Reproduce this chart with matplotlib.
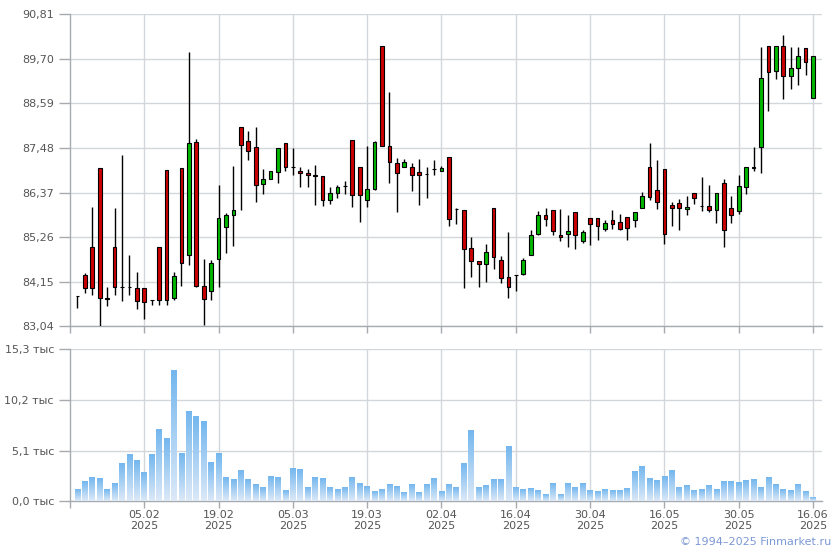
import numpy as np
import matplotlib
matplotlib.use('Agg')
import matplotlib.pyplot as plt
from matplotlib.colors import LinearSegmentedColormap

plt.rcParams['font.family'] = ['DejaVu Sans']

# 每个交易日的开高低收
opens = [83.80, 84.31, 85.02, 86.98, 83.74, 85.02, 84.02, 84.02, 83.99, 83.99,
         83.70, 85.02, 86.93, 83.75, 86.98, 84.81, 87.63, 84.05, 83.91, 84.72,
         85.51, 85.81, 88.00, 87.65, 87.50, 86.58, 86.71, 86.88, 87.60, 87.01,
         86.91, 86.86, 86.81, 86.79, 86.18, 86.36, 86.54, 87.68, 87.00, 86.18,
         86.46, 90.02, 87.53, 87.10, 87.00, 87.00, 86.88, 86.83, 86.95, 86.92,
         87.26, 85.95, 85.94, 84.99, 84.67, 84.58, 85.99, 84.70, 84.27, 84.32,
         84.34, 84.82, 85.34, 85.81, 85.94, 85.31, 85.34, 85.89, 85.16, 85.74,
         85.74, 85.46, 85.69, 85.64, 85.76, 85.69, 85.98, 87.00, 86.43, 86.96,
         86.06, 86.11, 85.96, 86.36, 86.03, 86.03, 85.94, 86.61, 85.98, 85.91,
         86.51, 87.00, 87.50, 90.01, 89.41, 90.01, 89.28, 89.47, 89.98, 88.72]
highs = [83.80, 84.37, 86.01, 86.98, 84.02, 85.99, 87.30, 84.81, 84.39, 83.99,
         83.70, 85.02, 86.93, 84.39, 86.98, 89.86, 87.70, 84.72, 84.70, 86.57,
         85.86, 87.02, 88.00, 87.91, 88.00, 86.96, 86.90, 87.48, 87.60, 87.48,
         87.00, 86.97, 87.05, 86.79, 86.51, 86.57, 86.66, 87.68, 87.00, 87.53,
         87.65, 90.02, 88.88, 87.24, 87.21, 87.10, 87.21, 87.00, 87.18, 87.04,
         87.26, 85.98, 85.94, 85.26, 84.67, 85.09, 85.99, 84.78, 85.40, 84.32,
         84.74, 85.45, 85.90, 85.99, 85.94, 85.96, 85.81, 85.89, 85.44, 85.74,
         85.74, 85.69, 85.94, 85.84, 85.76, 85.89, 86.38, 87.60, 87.18, 86.96,
         86.13, 86.21, 86.28, 86.36, 86.76, 86.56, 86.36, 86.71, 86.28, 86.81,
         87.00, 87.50, 89.99, 90.01, 90.01, 90.30, 89.99, 89.99, 89.98, 89.78]
lows = [83.49, 83.87, 83.83, 83.06, 83.54, 83.83, 83.66, 83.81, 83.48, 83.23,
        83.58, 83.58, 83.58, 83.69, 84.04, 84.56, 84.02, 83.07, 83.69, 84.02,
        84.87, 85.03, 85.93, 87.17, 86.13, 86.33, 86.71, 86.60, 86.92, 86.80,
        86.50, 86.50, 86.05, 86.03, 86.08, 86.23, 86.33, 86.00, 85.65, 86.00,
        86.44, 87.52, 86.60, 85.89, 87.00, 86.40, 86.05, 86.23, 86.80, 86.90,
        85.53, 85.60, 84.00, 84.26, 84.02, 84.14, 84.47, 84.12, 83.75, 83.91,
        84.31, 84.81, 85.31, 85.53, 85.31, 85.16, 85.01, 84.97, 85.12, 85.06,
        85.18, 85.41, 85.46, 85.43, 85.19, 85.51, 85.98, 86.18, 85.96, 85.08,
        85.53, 85.43, 85.81, 86.08, 85.91, 85.89, 85.61, 85.01, 85.61, 85.84,
        86.33, 86.90, 86.85, 88.41, 89.21, 88.69, 88.94, 89.04, 89.31, 88.72]
closes = [83.80, 83.99, 83.99, 83.75, 83.72, 84.01, 84.02, 84.02, 83.66, 83.65,
          83.70, 83.70, 83.70, 84.29, 84.62, 87.60, 84.04, 83.72, 84.62, 85.74,
          85.81, 85.94, 87.55, 87.40, 86.56, 86.71, 86.90, 87.48, 87.00, 87.01,
          86.86, 86.80, 86.79, 86.18, 86.36, 86.51, 86.54, 86.31, 86.31, 86.46,
          87.63, 87.52, 87.13, 86.85, 87.13, 86.80, 86.80, 86.83, 86.95, 86.98,
          85.71, 85.95, 84.97, 84.66, 84.58, 84.89, 84.77, 84.24, 84.02, 84.32,
          84.70, 85.31, 85.81, 85.71, 85.41, 85.26, 85.41, 85.31, 85.39, 85.59,
          85.54, 85.61, 85.59, 85.46, 85.49, 85.89, 86.28, 86.26, 86.13, 85.34,
          85.98, 85.98, 86.01, 86.23, 86.03, 85.94, 86.36, 85.43, 85.81, 86.53,
          87.00, 86.99, 89.22, 89.38, 90.01, 89.28, 89.47, 89.78, 89.63, 89.78]

# 成交量（千）
volumes = [1.14, 1.95, 2.35, 2.25, 1.14, 1.74, 3.76, 4.66, 4.06, 2.85,
           4.66, 7.18, 6.27, 13.12, 4.76, 8.99, 8.49, 7.98, 3.86, 4.76,
           2.35, 2.15, 3.05, 2.15, 1.64, 1.34, 2.45, 2.35, 1.04, 3.25,
           3.15, 1.34, 2.35, 2.25, 1.34, 1.14, 1.34, 2.35, 1.74, 1.44,
           0.94, 1.14, 1.64, 1.44, 0.84, 1.64, 0.84, 1.64, 2.25, 0.94,
           1.64, 1.34, 3.76, 7.08, 1.34, 1.54, 2.15, 2.15, 5.47, 1.34,
           1.14, 1.24, 1.04, 0.64, 1.74, 0.64, 1.74, 1.34, 1.74, 1.04,
           0.94, 1.14, 1.04, 1.04, 1.24, 2.95, 3.46, 2.25, 2.05, 2.45,
           3.05, 1.34, 1.54, 1.04, 1.14, 1.54, 1.14, 1.95, 1.95, 1.85,
           2.05, 2.15, 1.34, 2.35, 1.64, 1.14, 1.04, 1.64, 0.94, 0.34]

date_labels = ['05.02\n2025', '19.02\n2025', '05.03\n2025', '19.03\n2025', '02.04\n2025',
               '16.04\n2025', '30.04\n2025', '16.05\n2025', '30.05\n2025', '16.06\n2025']
price_ticks = [83.04, 84.15, 85.26, 86.37, 87.48, 88.59, 89.70, 90.81]
volume_ticks = [0.0, 5.1, 10.2, 15.3]

grid_color = '#d3d7db'
spine_color = '#a7abb0'
text_color = '#555555'

n = len(opens)
x = np.arange(n)
date_pos = np.arange(9, n, 10)

fig = plt.figure(figsize=(8.4, 5.5), dpi=100)
ax = fig.add_axes([0.0833, 0.4067, 0.8952, 0.5673])
axv = fig.add_axes([0.0833, 0.08855, 0.8952, 0.27636])


def style_axis(a):
    for side in ['top', 'right']:
        a.spines[side].set_visible(False)
    for side in ['left', 'bottom']:
        a.spines[side].set_color(spine_color)
        a.spines[side].set_linewidth(1)
    a.set_xlim(-1.0, 100.2)
    a.set_xticks(date_pos)
    a.set_xticks([-1.0], minor=True)
    a.grid(True, color=grid_color, linewidth=1)
    a.set_axisbelow(True)
    a.tick_params(axis='both', which='both', colors=spine_color, labelcolor=text_color, labelsize=8)
    a.tick_params(axis='y', length=8, width=1)
    a.tick_params(axis='x', which='both', length=5, width=1, pad=1.5)


# 蜡烛图
style_axis(ax)
ax.set_ylim(83.04, 90.81)
ax.set_yticks(price_ticks)
ax.set_yticklabels([f'{v:.2f}'.replace('.', ',') for v in price_ticks])
ax.set_xticklabels([])

o = np.array(opens)
c = np.array(closes)
colors = np.where(c > o, '#00b800', np.where(c < o, '#cc0000', '#000000'))
ax.vlines(x, lows, highs, color='black', linewidth=1, zorder=3)
ax.bar(x, c - o, bottom=o, width=0.5, color=colors, edgecolor='black', linewidth=0.8, zorder=4)

# 成交量柱（渐变）
style_axis(axv)
axv.set_ylim(0, 15.3)
axv.set_yticks(volume_ticks)
axv.set_yticklabels([f'{v:.1f}'.replace('.', ',') + ' тыс' for v in volume_ticks])
axv.set_xticklabels(date_labels, linespacing=1.1)

cmap = LinearSegmentedColormap.from_list('vol', ['#dce9f8', '#74b7ee'])
grad = np.linspace(1, 0, 64).reshape(-1, 1)
bw = 0.77
for xi, v in zip(x, volumes):
    axv.imshow(grad, cmap=cmap, aspect='auto', interpolation='bilinear',
               extent=[xi - bw / 2, xi + bw / 2, 0, v], zorder=3)
axv.set_xlim(-1.0, 100.2)
axv.set_ylim(0, 15.3)

fig.text(0.989, 0.0145, '© 1994–2025 Finmarket.ru', ha='right', va='center',
         fontsize=8, color='#7c98d6')

plt.savefig('out.png', dpi=100)
